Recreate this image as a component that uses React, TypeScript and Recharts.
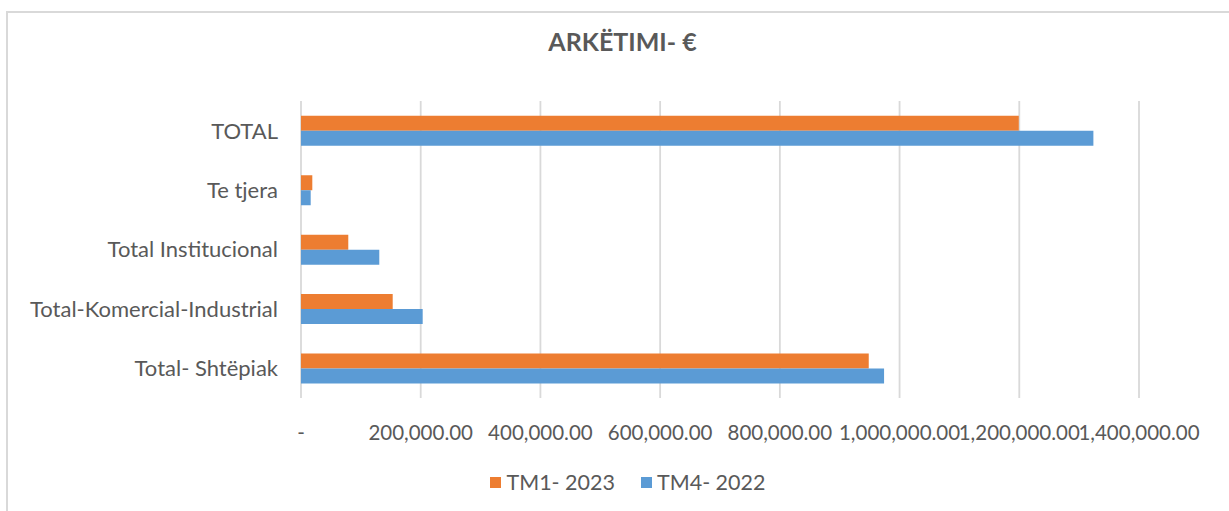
import React from "react";
import { Bar, BarChart, CartesianGrid, XAxis, YAxis } from "recharts";

// categories listed top to bottom as drawn
const categories = ["TOTAL", "Te tjera", "Total Institucional", "Total-Komercial-Industrial", "Total- Shtëpiak"];
const tm1_2023 = [1199200, 18900, 79000, 153200, 948500];
const tm4_2022 = [1323800, 16200, 130800, 203300, 974100];
const xTicks = [0, 200000, 400000, 600000, 800000, 1000000, 1200000, 1400000];

const seriesNames = ["TM1- 2023", "TM4- 2022"];
const ORANGE = "#ED7D31";
const BLUE = "#5B9BD5";
const TEXT = "#595959";
const FONT = "Lato, 'Open Sans', sans-serif";

const rows = categories.map((name, i) => ({ name, tm1: tm1_2023[i], tm4: tm4_2022[i] }));

const fmt = (v: number) =>
  v === 0 ? "-" : v.toLocaleString("en-US", { minimumFractionDigits: 2, maximumFractionDigits: 2 });

function LegendBox() {
  const items = [
    { label: seriesNames[0], color: ORANGE },
    { label: seriesNames[1], color: BLUE },
  ];
  return (
    <div style={{ display: "flex", justifyContent: "center", gap: 26, fontFamily: FONT, fontSize: 21.5, color: TEXT }}>
      {items.map((it) => (
        <div key={it.label} style={{ display: "flex", alignItems: "center", height: 24 }}>
          <span style={{ width: 11, height: 11, background: it.color, display: "inline-block", marginRight: 5 }} />
          <span>{it.label}</span>
        </div>
      ))}
    </div>
  );
}

export default function App() {
  return (
    <div style={{ position: "absolute", left: 0, top: 0, width: 1229, height: 511, overflow: "hidden", background: "#fff" }}>
      <div
        style={{
          position: "absolute",
          left: 6,
          top: 11,
          width: 1260,
          height: 540,
          border: "2px solid #d9d9d9",
        }}
      />
      <div
        style={{
          position: "absolute",
          left: 0,
          top: 26,
          width: 1245,
          textAlign: "center",
          fontFamily: FONT,
          fontWeight: "bold",
          fontSize: 25,
          color: TEXT,
        }}
      >
        ARKËTIMI- €
      </div>
      <div style={{ position: "absolute", left: 0, top: 0 }}>
        <BarChart
          width={1229}
          height={511}
          data={rows}
          layout="vertical"
          margin={{ top: 101, right: 90, left: 0, bottom: 73 }}
          barCategoryGap="25%"
          barGap={0}
        >
          <CartesianGrid horizontal={false} stroke="#d9d9d9" strokeWidth={1.8} />
          <XAxis
            type="number"
            domain={[0, 1400000]}
            ticks={xTicks}
            interval={0}
            tickFormatter={fmt}
            axisLine={false}
            tickLine={false}
            tickSize={0}
            tickMargin={27}
            height={40}
            tick={{ fill: TEXT, fontSize: 20.5, fontFamily: FONT }}
          />
          <YAxis
            type="category"
            dataKey="name"
            width={301}
            axisLine={false}
            tickLine={false}
            tickSize={0}
            tickMargin={23}
            tick={{ fill: TEXT, fontSize: 22, fontFamily: FONT }}
          />
          <Bar dataKey="tm1" name={seriesNames[0]} fill={ORANGE} isAnimationActive={false} />
          <Bar dataKey="tm4" name={seriesNames[1]} fill={BLUE} isAnimationActive={false} />
        </BarChart>
      </div>
      <div style={{ position: "absolute", left: 0, top: 470, width: 1256 }}>
        <LegendBox />
      </div>
    </div>
  );
}
